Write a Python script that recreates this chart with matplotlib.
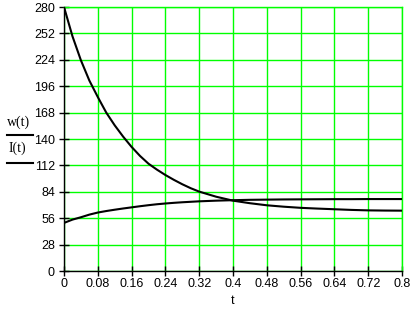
import matplotlib
matplotlib.use("Agg")
import matplotlib.pyplot as plt
from matplotlib.lines import Line2D

# Dados
t = [0, 0.02, 0.04, 0.06, 0.08, 0.10, 0.12, 0.14, 0.16, 0.18, 0.20, 0.22,
     0.24, 0.26, 0.28, 0.30, 0.32, 0.36, 0.40, 0.44, 0.48, 0.52, 0.56,
     0.60, 0.64, 0.68, 0.72, 0.76, 0.80]
w = [280, 249, 223.5, 202, 184.5, 168, 154.5, 142.5, 131.6, 122, 113.8, 107.5,
     101.8, 96.7, 92, 87.8, 84.2, 78.8, 74.6, 71.9, 69.7, 68.2, 67,
     66.2, 65.5, 64.8, 64.3, 64.1, 64]
I = [51, 54.5, 57, 59.8, 62, 63.6, 65, 66.3, 67.5, 68.7, 69.8, 70.8,
     71.6, 72.3, 72.9, 73.4, 73.9, 74.6, 75.1, 75.5, 75.7, 75.9, 76,
     76.1, 76.2, 76.2, 76.3, 76.3, 76.3]

xticks = [0, 0.08, 0.16, 0.24, 0.32, 0.4, 0.48, 0.56, 0.64, 0.72, 0.8]
xlabels = ["0", "0.08", "0.16", "0.24", "0.32", "0.4", "0.48", "0.56", "0.64", "0.72", "0.8"]
yticks = [0, 28, 56, 84, 112, 140, 168, 196, 224, 252, 280]

verde = "#00ff00"

fig = plt.figure(figsize=(4.17, 3.09), dpi=100)
ax = fig.add_axes([64 / 417, 38 / 309, 338 / 417, 264 / 309])

ax.plot(t, w, color="black", lw=1.5, zorder=3)
ax.plot(t, I, color="black", lw=1.5, zorder=3)

ax.set_xlim(0, 0.8)
ax.set_ylim(0, 280)
ax.set_xticks(xticks)
ax.set_xticklabels(xlabels)
ax.set_yticks(yticks)
ax.grid(True, color=verde, lw=1.0)
ax.set_axisbelow(True)

for lado in ["top", "right"]:
    ax.spines[lado].set_color(verde)
    ax.spines[lado].set_linewidth(1.0)
for lado in ["left", "bottom"]:
    ax.spines[lado].set_color("black")
    ax.spines[lado].set_linewidth(1.0)

ax.tick_params(direction="inout", length=7, width=1, color="black",
               labelsize=9, pad=3)
ax.tick_params(axis="x", pad=1.5)
for lab in ax.get_xticklabels() + ax.get_yticklabels():
    lab.set_fontfamily("Liberation Sans")

ax.set_xlabel("t", fontsize=9, family="Liberation Sans", labelpad=4)

# Rótulos do eixo y no estilo Mathcad (texto + amostra da linha)
fig.text(19 / 417, 1 - 122 / 309, "w(t)", fontsize=10, family="Liberation Serif",
         ha="center", va="center")
fig.add_artist(Line2D([7 / 417, 33 / 417], [1 - 135.5 / 309] * 2,
                      color="black", lw=1.5, transform=fig.transFigure))
fig.text(17 / 417, 1 - 148 / 309, "I(t)", fontsize=10, family="Liberation Serif",
         ha="center", va="center")
fig.add_artist(Line2D([7 / 417, 33 / 417], [1 - 162.5 / 309] * 2,
                      color="black", lw=1.5, transform=fig.transFigure))

fig.savefig("out.png", dpi=100)
